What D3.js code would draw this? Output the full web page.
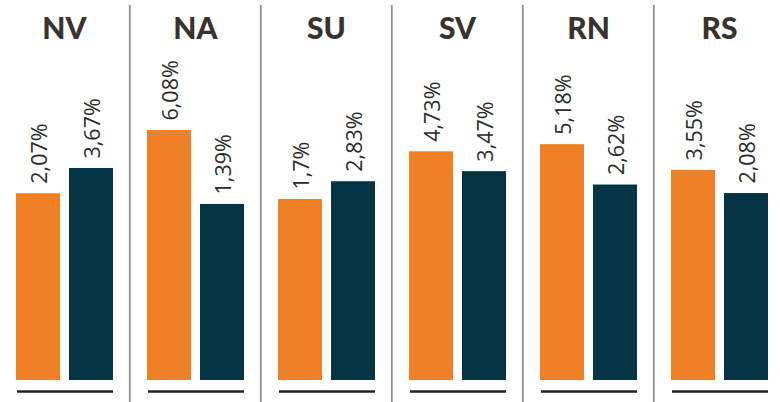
<!DOCTYPE html>
<html><head><meta charset="utf-8">
<script src="https://cdn.jsdelivr.net/npm/d3@7"></script>
<style>body{margin:0;background:#fff}svg{display:block}</style>
</head><body>
<svg id="c" width="780" height="402"></svg>
<script>
const categories = ["NV","NA","SU","SV","RN","RS"];
const seriesA = [2.07, 6.08, 1.70, 4.73, 5.18, 3.55];
const seriesB = [3.67, 1.39, 2.83, 3.47, 2.62, 2.08];
const labelsA = ["2,07%","6,08%","1,7%","4,73%","5,18%","3,55%"];
const labelsB = ["3,67%","1,39%","2,83%","3,47%","2,62%","2,08%"];
const colors = ["#F08026","#053544"];

const svg = d3.select("#c");
const x0 = d3.scaleBand().domain(categories).range([0, 786]).paddingInner(0).paddingOuter(0);
const x1 = d3.scaleBand().domain([0,1]).range([16, 113]).paddingInner(0.17).paddingOuter(0);
const y = d3.scaleLinear().domain([-9.78, 6.08]).range([380, 130]);

const g = svg.selectAll("g.panel").data(categories).join("g")
  .attr("class","panel")
  .attr("transform", d => `translate(${x0(d)},0)`);

svg.selectAll("line.div").data(categories.slice(1)).join("line")
  .attr("class","div")
  .attr("x1", d => x0(d) - 1.2).attr("x2", d => x0(d) - 1.2)
  .attr("y1", 5).attr("y2", 402)
  .attr("stroke", "#8f8f8f").attr("stroke-width", 1.8);

g.append("text")
  .attr("x", (x1(0) + x1(1) + x1.bandwidth())/2)
  .attr("y", 39)
  .attr("text-anchor","middle")
  .attr("font-family","Lato, 'Open Sans', sans-serif")
  .attr("font-weight", 900)
  .attr("font-size", 30)
  .attr("fill","#39322f")
  .text(d => d);

const bars = g.selectAll("g.bar").data((d,i) => [
  {s:0, v:seriesA[i], l:labelsA[i]},
  {s:1, v:seriesB[i], l:labelsB[i]}
]).join("g").attr("class","bar");

bars.append("rect")
  .attr("x", d => x1(d.s))
  .attr("width", x1.bandwidth())
  .attr("y", d => y(d.v))
  .attr("height", d => y.range()[0] - y(d.v))
  .attr("fill", d => colors[d.s]);

bars.append("text")
  .attr("transform", d => `translate(${x1(d.s) + x1.bandwidth()/2 + 1},${y(d.v) - 9.5}) rotate(-90)`)
  .attr("dy", "0.36em")
  .attr("font-family","'Open Sans', sans-serif")
  .attr("font-size", 21.5)
  .attr("fill","#2b2b2b")
  .text(d => d.l);

g.append("line")
  .attr("x1", 17).attr("x2", 113)
  .attr("y1", 391.5).attr("y2", 391.5)
  .attr("stroke","#222").attr("stroke-width", 2.6);
</script>
</body></html>
